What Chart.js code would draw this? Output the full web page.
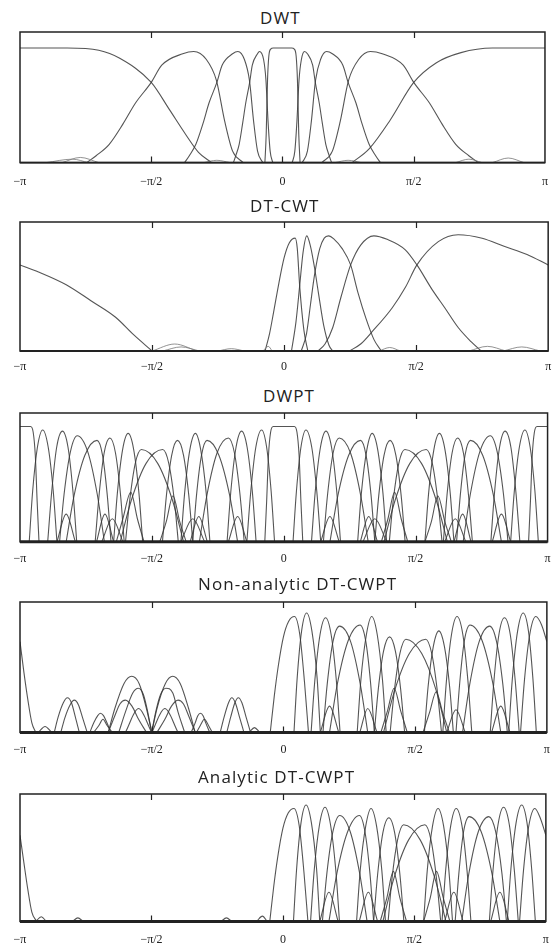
<!DOCTYPE html>
<html>
<head>
<meta charset="utf-8">
<script src="https://cdn.jsdelivr.net/npm/chart.js@4.4.1/dist/chart.umd.min.js"></script>
<style>
  body { margin: 0; background: #fff; width: 557px; height: 947px; overflow: hidden; position: relative; }
  .panel { position: absolute; left: 0; }
  .title { position: absolute; font-family: "Open Sans", sans-serif; font-size: 17px; line-height: 22px; color: #222; white-space: nowrap; letter-spacing: 1.1px; }
</style>
</head>
<body>
<script>
// x values are in units of pi, y is magnitude
const tickVals = [-1, -0.5, 0, 0.5, 1];
const tickLabels = ['\u2212\u03c0', '\u2212\u03c0/2', '0', '\u03c0/2', '\u03c0'];

// ---- DWT ----
const dwtHigh = [
  [[-1,1],[-0.82,1],[-0.7,0.98],[-0.62,0.91],[-0.5,0.70],[-0.43,0.46],[-0.37,0.25],[-0.32,0.09],[-0.27,0]],
  [[0.265,0],[0.33,0.12],[0.41,0.37],[0.5,0.70],[0.585,0.87],[0.68,0.96],[0.8,1],[1,1]]
];
const dwtLevel2 = [
  [[-0.746,0],[-0.71,0.06],[-0.66,0.16],[-0.607,0.34],[-0.56,0.52],[-0.5,0.70],[-0.46,0.85],[-0.38,0.95],[-0.338,0.97],[-0.29,0.9],[-0.252,0.72],[-0.22,0.36],[-0.19,0.1],[-0.15,0]],
  [[0.15,0],[0.19,0.1],[0.22,0.36],[0.252,0.72],[0.29,0.9],[0.335,0.97],[0.38,0.95],[0.46,0.85],[0.5,0.70],[0.56,0.52],[0.607,0.34],[0.66,0.16],[0.71,0.06],[0.746,0]]
];
const dwtLevel3 = [
  [[-0.373,0],[-0.355,0.06],[-0.33,0.16],[-0.303,0.34],[-0.28,0.52],[-0.25,0.70],[-0.23,0.85],[-0.19,0.95],[-0.17,0.97],[-0.145,0.9],[-0.126,0.72],[-0.11,0.36],[-0.095,0.1],[-0.075,0]],
  [[0.075,0],[0.095,0.1],[0.11,0.36],[0.126,0.72],[0.145,0.9],[0.168,0.97],[0.19,0.95],[0.23,0.85],[0.25,0.70],[0.28,0.52],[0.303,0.34],[0.33,0.16],[0.355,0.06],[0.373,0]]
];
const dwtLevel4 = [
  [[-0.187,0],[-0.178,0.06],[-0.165,0.16],[-0.152,0.34],[-0.14,0.52],[-0.125,0.70],[-0.115,0.85],[-0.095,0.95],[-0.088,0.97],[-0.072,0.9],[-0.063,0.72],[-0.055,0.36],[-0.047,0.1],[-0.037,0]],
  [[0.037,0],[0.047,0.1],[0.055,0.36],[0.063,0.72],[0.072,0.9],[0.084,0.97],[0.095,0.95],[0.115,0.85],[0.125,0.70],[0.14,0.52],[0.152,0.34],[0.165,0.16],[0.178,0.06],[0.187,0]]
];
const dwtLow = [
  [[-0.067,0],[-0.062,0.25],[-0.057,0.72],[-0.052,0.93],[-0.045,0.99],[-0.035,1],[0.035,1],[0.045,0.99],[0.052,0.93],[0.057,0.72],[0.062,0.25],[0.067,0]]
];
const dwtRipple = [
  [[-0.9,0],[-0.8,0.03],[-0.74,0]], [[-0.84,0],[-0.77,0.045],[-0.7,0]], [[-0.3,0],[-0.25,0.02],[-0.2,0]],
  [[0.2,0],[0.25,0.02],[0.3,0]], [[0.66,0],[0.71,0.03],[0.76,0]], [[0.8,0],[0.86,0.04],[0.92,0]]
];

// ---- DT-CWT ----
const cwtBands = [
  [[-0.072,0],[-0.055,0.15],[-0.04,0.33],[-0.02,0.58],[0,0.8],[0.02,0.93],[0.042,0.97],[0.05,0.88],[0.059,0.56],[0.075,0.18],[0.09,0]],
  [[0.028,0],[0.045,0.25],[0.059,0.56],[0.072,0.85],[0.086,0.99],[0.1,0.9],[0.115,0.72],[0.13,0.5],[0.15,0.22],[0.17,0.05],[0.184,0]],
  [[0.065,0],[0.085,0.15],[0.1,0.4],[0.115,0.65],[0.135,0.88],[0.152,0.97],[0.168,0.99],[0.19,0.96],[0.22,0.88],[0.252,0.74],[0.28,0.5],[0.31,0.28],[0.34,0.1],[0.368,0]],
  [[0.128,0],[0.155,0.06],[0.184,0.2],[0.215,0.46],[0.252,0.74],[0.29,0.91],[0.34,0.99],[0.39,0.96],[0.459,0.87],[0.503,0.74],[0.56,0.53],[0.609,0.37],[0.66,0.2],[0.708,0.08],[0.746,0]],
  [[0.247,0],[0.29,0.06],[0.335,0.17],[0.409,0.37],[0.46,0.55],[0.503,0.74],[0.584,0.94],[0.659,1.0],[0.75,0.97],[0.833,0.9],[0.92,0.83],[1,0.74]],
  [[-1,0.74],[-0.93,0.68],[-0.825,0.57],[-0.73,0.43],[-0.638,0.29],[-0.57,0.14],[-0.5,0]]
];
const cwtRipple = [
  [[-0.5,0],[-0.414,0.06],[-0.33,0]], [[-0.46,0],[-0.39,0.035],[-0.32,0]], [[-0.25,0],[-0.2,0.02],[-0.15,0]],
  [[-0.08,0],[-0.06,0.04],[-0.045,0]], [[0.36,0],[0.4,0.03],[0.44,0]], [[0.7,0],[0.77,0.04],[0.84,0]], [[0.83,0],[0.9,0.035],[0.97,0]]
];

// ---- DWPT ----
const dwptNeg = [
  [[-1,1],[-0.96,1],[-0.95,0.95],[-0.942,0.75],[-0.935,0.35],[-0.928,0]],
  [[-0.965,0],[-0.952,0.44],[-0.934,0.82],[-0.914,0.97],[-0.893,0.82],[-0.874,0.44],[-0.86,0]],
  [[-0.895,0],[-0.88,0.43],[-0.861,0.82],[-0.839,0.96],[-0.818,0.82],[-0.799,0.43],[-0.785,0]],
  [[-0.85,0],[-0.833,0.41],[-0.809,0.78],[-0.783,0.92],[-0.743,0.78],[-0.707,0.41],[-0.68,0]],
  [[-0.825,0],[-0.795,0.4],[-0.754,0.75],[-0.708,0.88],[-0.687,0.75],[-0.669,0.4],[-0.655,0]],
  [[-0.715,0],[-0.7,0.41],[-0.681,0.77],[-0.659,0.9],[-0.638,0.77],[-0.619,0.41],[-0.605,0]],
  [[-0.645,0],[-0.631,0.42],[-0.611,0.8],[-0.59,0.94],[-0.569,0.8],[-0.549,0.42],[-0.535,0]],
  [[-0.6,0],[-0.584,0.36],[-0.563,0.68],[-0.54,0.8],[-0.478,0.68],[-0.422,0.36],[-0.38,0]],
  [[-0.62,0],[-0.578,0.36],[-0.522,0.68],[-0.459,0.8],[-0.436,0.68],[-0.415,0.36],[-0.4,0]],
  [[-0.46,0],[-0.445,0.4],[-0.425,0.75],[-0.403,0.88],[-0.38,0.75],[-0.36,0.4],[-0.345,0]],
  [[-0.39,0],[-0.376,0.42],[-0.356,0.8],[-0.335,0.94],[-0.315,0.8],[-0.294,0.42],[-0.28,0]],
  [[-0.345,0],[-0.331,0.4],[-0.312,0.75],[-0.291,0.88],[-0.246,0.75],[-0.205,0.4],[-0.175,0]],
  [[-0.32,0],[-0.291,0.41],[-0.253,0.77],[-0.21,0.9],[-0.187,0.77],[-0.166,0.41],[-0.15,0]],
  [[-0.215,0],[-0.201,0.43],[-0.181,0.82],[-0.16,0.96],[-0.139,0.82],[-0.119,0.43],[-0.105,0]],
  [[-0.14,0],[-0.125,0.44],[-0.106,0.82],[-0.084,0.97],[-0.065,0.82],[-0.048,0.44],[-0.035,0]]
];
const dwptLow = [
  [[-0.072,0],[-0.065,0.35],[-0.058,0.75],[-0.05,0.95],[-0.04,1],[0.04,1],[0.05,0.95],[0.058,0.75],[0.065,0.35],[0.072,0]]
];
const dwptPos = [
  [[0.035,0],[0.048,0.44],[0.065,0.82],[0.084,0.97],[0.106,0.82],[0.125,0.44],[0.14,0]],
  [[0.105,0],[0.119,0.43],[0.139,0.82],[0.16,0.96],[0.181,0.82],[0.201,0.43],[0.215,0]],
  [[0.15,0],[0.166,0.41],[0.187,0.77],[0.21,0.9],[0.253,0.77],[0.291,0.41],[0.32,0]],
  [[0.175,0],[0.205,0.4],[0.246,0.75],[0.291,0.88],[0.312,0.75],[0.331,0.4],[0.345,0]],
  [[0.28,0],[0.294,0.42],[0.315,0.8],[0.335,0.94],[0.356,0.8],[0.376,0.42],[0.39,0]],
  [[0.345,0],[0.36,0.4],[0.38,0.75],[0.403,0.88],[0.425,0.75],[0.445,0.4],[0.46,0]],
  [[0.4,0],[0.415,0.36],[0.436,0.68],[0.459,0.8],[0.522,0.68],[0.578,0.36],[0.62,0]],
  [[0.38,0],[0.422,0.36],[0.478,0.68],[0.54,0.8],[0.563,0.68],[0.584,0.36],[0.6,0]],
  [[0.535,0],[0.549,0.42],[0.569,0.8],[0.59,0.94],[0.611,0.8],[0.631,0.42],[0.645,0]],
  [[0.605,0],[0.619,0.41],[0.638,0.77],[0.659,0.9],[0.681,0.77],[0.7,0.41],[0.715,0]],
  [[0.655,0],[0.669,0.4],[0.687,0.75],[0.708,0.88],[0.754,0.75],[0.795,0.4],[0.825,0]],
  [[0.68,0],[0.707,0.41],[0.743,0.78],[0.783,0.92],[0.809,0.78],[0.833,0.41],[0.85,0]],
  [[0.785,0],[0.799,0.43],[0.818,0.82],[0.839,0.96],[0.861,0.82],[0.88,0.43],[0.895,0]],
  [[0.86,0],[0.874,0.44],[0.893,0.82],[0.914,0.97],[0.934,0.82],[0.952,0.44],[0.965,0]],
  [[0.928,0],[0.935,0.35],[0.942,0.75],[0.95,0.95],[0.96,1],[1,1]]
];
const dwptLobes = [
  [[-0.47,0],[-0.445,0.18],[-0.42,0.4],[-0.395,0.18],[-0.37,0]],
  [[-0.635,0],[-0.61,0.2],[-0.58,0.43],[-0.555,0.2],[-0.53,0]],
  [[-0.21,0],[-0.175,0.22],[-0.14,0]], [[-0.355,0],[-0.322,0.22],[-0.29,0]], [[-0.39,0],[-0.345,0.2],[-0.3,0]],
  [[-0.69,0],[-0.65,0.2],[-0.61,0]], [[-0.71,0],[-0.678,0.24],[-0.645,0]], [[-0.86,0],[-0.825,0.24],[-0.79,0]],
  [[0.37,0],[0.395,0.2],[0.42,0.43],[0.445,0.2],[0.47,0]],
  [[0.535,0],[0.56,0.18],[0.584,0.4],[0.61,0.18],[0.635,0]],
  [[0.14,0],[0.175,0.22],[0.21,0]], [[0.29,0],[0.322,0.22],[0.355,0]], [[0.3,0],[0.345,0.2],[0.39,0]],
  [[0.61,0],[0.65,0.2],[0.69,0]], [[0.645,0],[0.678,0.24],[0.71,0]], [[0.79,0],[0.825,0.24],[0.86,0]]
];

// ---- Non-analytic DT-CWPT ----
const naPos = [
  [[-0.05,0],[-0.035,0.3],[-0.02,0.55],[0,0.8],[0.02,0.93],[0.042,0.97],[0.062,0.82],[0.08,0.42],[0.095,0]],
  [[0.04,0],[0.052,0.45],[0.069,0.85],[0.088,1.0],[0.108,0.85],[0.128,0.45],[0.14,0]],
  [[0.105,0],[0.119,0.43],[0.139,0.82],[0.16,0.96],[0.181,0.82],[0.201,0.43],[0.215,0]],
  [[0.15,0],[0.166,0.4],[0.188,0.76],[0.213,0.89],[0.255,0.76],[0.292,0.4],[0.32,0]],
  [[0.175,0],[0.205,0.41],[0.246,0.77],[0.291,0.9],[0.312,0.77],[0.331,0.41],[0.345,0]],
  [[0.28,0],[0.294,0.44],[0.315,0.82],[0.335,0.97],[0.356,0.82],[0.376,0.44],[0.39,0]],
  [[0.345,0],[0.36,0.36],[0.38,0.68],[0.403,0.8],[0.425,0.68],[0.445,0.36],[0.46,0]],
  [[0.405,0],[0.421,0.35],[0.442,0.66],[0.465,0.78],[0.525,0.66],[0.58,0.35],[0.62,0]],
  [[0.38,0],[0.422,0.35],[0.478,0.66],[0.54,0.78],[0.563,0.66],[0.584,0.35],[0.6,0]],
  [[0.535,0],[0.549,0.38],[0.569,0.72],[0.59,0.85],[0.611,0.72],[0.631,0.38],[0.645,0]],
  [[0.605,0],[0.619,0.44],[0.638,0.82],[0.659,0.97],[0.681,0.82],[0.7,0.44],[0.715,0]],
  [[0.655,0],[0.669,0.41],[0.687,0.77],[0.708,0.9],[0.754,0.77],[0.795,0.41],[0.825,0]],
  [[0.68,0],[0.707,0.4],[0.743,0.76],[0.783,0.89],[0.809,0.76],[0.833,0.4],[0.85,0]],
  [[0.785,0],[0.799,0.43],[0.818,0.82],[0.839,0.96],[0.861,0.82],[0.88,0.43],[0.895,0]],
  [[0.855,0],[0.869,0.45],[0.889,0.85],[0.91,1.0],[0.93,0.85],[0.947,0.45],[0.96,0]],
  [[0.9,0],[0.915,0.44],[0.935,0.82],[0.958,0.97],[0.98,0.9],[1,0.76]],
  [[-1,0.76],[-0.985,0.5],[-0.97,0.27],[-0.955,0.08],[-0.94,0]]
];
const naLobes = [
  [[0.37,0],[0.395,0.18],[0.42,0.37],[0.445,0.18],[0.47,0]],
  [[0.53,0],[0.555,0.17],[0.58,0.34],[0.605,0.16],[0.63,0]],
  [[0.14,0],[0.175,0.22],[0.21,0]], [[0.29,0],[0.32,0.2],[0.355,0]],
  [[0.62,0],[0.655,0.19],[0.69,0]], [[0.79,0],[0.825,0.22],[0.86,0]]
];
const naNeg = [
  [[-0.93,0],[-0.905,0.05],[-0.88,0]],
  [[-0.87,0],[-0.855,0.13],[-0.835,0.25],[-0.82,0.29],[-0.805,0.25],[-0.79,0.13],[-0.775,0]],
  [[-0.845,0],[-0.83,0.12],[-0.81,0.23],[-0.794,0.27],[-0.778,0.23],[-0.762,0.12],[-0.745,0]],
  [[-0.735,0],[-0.72,0.08],[-0.705,0.14],[-0.695,0.16],[-0.683,0.14],[-0.67,0.08],[-0.655,0]],
  [[-0.72,0],[-0.7,0.06],[-0.685,0.11],[-0.67,0.06],[-0.65,0]],
  [[-0.665,0],[-0.64,0.2],[-0.605,0.41],[-0.576,0.47],[-0.548,0.41],[-0.52,0.2],[-0.5,0]],
  [[-0.625,0],[-0.6,0.17],[-0.572,0.33],[-0.551,0.37],[-0.532,0.32],[-0.515,0.17],[-0.5,0]],
  [[-0.665,0],[-0.64,0.14],[-0.62,0.24],[-0.6,0.27],[-0.575,0.22],[-0.55,0.11],[-0.52,0]],
  [[-0.6,0],[-0.55,0.2],[-0.5,0]],
  [[-0.5,0],[-0.48,0.2],[-0.448,0.41],[-0.42,0.47],[-0.392,0.41],[-0.36,0.2],[-0.335,0]],
  [[-0.5,0],[-0.485,0.17],[-0.466,0.32],[-0.446,0.37],[-0.42,0.33],[-0.4,0.17],[-0.375,0]],
  [[-0.48,0],[-0.45,0.11],[-0.425,0.22],[-0.4,0.27],[-0.38,0.24],[-0.36,0.14],[-0.335,0]],
  [[-0.5,0],[-0.45,0.2],[-0.4,0]],
  [[-0.35,0],[-0.335,0.08],[-0.325,0.14],[-0.315,0.16],[-0.305,0.14],[-0.295,0.08],[-0.28,0]],
  [[-0.33,0],[-0.315,0.06],[-0.3,0.11],[-0.285,0.06],[-0.27,0]],
  [[-0.24,0],[-0.225,0.13],[-0.208,0.25],[-0.196,0.29],[-0.183,0.25],[-0.167,0.13],[-0.15,0]],
  [[-0.215,0],[-0.2,0.13],[-0.184,0.25],[-0.171,0.29],[-0.158,0.25],[-0.142,0.13],[-0.125,0]],
  [[-0.13,0],[-0.11,0.04],[-0.09,0]]
];

// ---- Analytic DT-CWPT ----
const anPos = [
  [[-0.05,0],[-0.035,0.3],[-0.02,0.55],[0,0.8],[0.02,0.93],[0.042,0.97],[0.062,0.82],[0.08,0.42],[0.095,0]],
  [[0.04,0],[0.052,0.45],[0.069,0.85],[0.088,1.0],[0.108,0.85],[0.128,0.45],[0.14,0]],
  [[0.105,0],[0.119,0.44],[0.139,0.83],[0.16,0.98],[0.181,0.83],[0.201,0.44],[0.215,0]],
  [[0.15,0],[0.167,0.41],[0.19,0.77],[0.216,0.91],[0.256,0.77],[0.292,0.41],[0.32,0]],
  [[0.175,0],[0.205,0.41],[0.246,0.77],[0.291,0.91],[0.312,0.77],[0.331,0.41],[0.345,0]],
  [[0.28,0],[0.294,0.44],[0.315,0.82],[0.335,0.97],[0.356,0.82],[0.376,0.44],[0.39,0]],
  [[0.345,0],[0.36,0.4],[0.38,0.76],[0.403,0.89],[0.425,0.76],[0.445,0.4],[0.46,0]],
  [[0.4,0],[0.415,0.37],[0.436,0.7],[0.459,0.83],[0.522,0.7],[0.578,0.37],[0.62,0]],
  [[0.38,0],[0.422,0.37],[0.478,0.7],[0.54,0.83],[0.563,0.7],[0.584,0.37],[0.6,0]],
  [[0.535,0],[0.549,0.44],[0.569,0.82],[0.59,0.97],[0.611,0.82],[0.631,0.44],[0.645,0]],
  [[0.605,0],[0.619,0.44],[0.638,0.82],[0.659,0.97],[0.681,0.82],[0.7,0.44],[0.715,0]],
  [[0.655,0],[0.669,0.41],[0.687,0.77],[0.708,0.9],[0.754,0.77],[0.795,0.41],[0.825,0]],
  [[0.68,0],[0.707,0.41],[0.743,0.77],[0.783,0.9],[0.809,0.77],[0.833,0.41],[0.85,0]],
  [[0.785,0],[0.799,0.44],[0.818,0.83],[0.839,0.98],[0.861,0.83],[0.88,0.44],[0.895,0]],
  [[0.853,0],[0.867,0.45],[0.887,0.85],[0.908,1.0],[0.928,0.85],[0.946,0.45],[0.96,0]],
  [[0.9,0],[0.915,0.44],[0.935,0.82],[0.958,0.97],[0.98,0.88],[1,0.74]],
  [[-1,0.74],[-0.985,0.5],[-0.97,0.27],[-0.955,0.08],[-0.937,0]]
];
const anLobes = [
  [[0.37,0],[0.395,0.2],[0.42,0.43],[0.445,0.2],[0.47,0]],
  [[0.535,0],[0.56,0.2],[0.584,0.43],[0.61,0.2],[0.635,0]],
  [[0.14,0],[0.175,0.25],[0.21,0]], [[0.29,0],[0.325,0.25],[0.36,0]],
  [[0.615,0],[0.65,0.25],[0.685,0]], [[0.79,0],[0.825,0.25],[0.86,0]],
  [[-0.94,0],[-0.919,0.04],[-0.9,0]], [[-0.8,0],[-0.78,0.03],[-0.76,0]],
  [[-0.235,0],[-0.215,0.03],[-0.195,0]], [[-0.1,0],[-0.078,0.045],[-0.06,0]]
];

const lineColor = 'rgba(55,55,55,0.85)';
const rippleColor = 'rgba(120,120,120,0.8)';

function toDatasets(curves, color, width) {
  return curves.map(c => ({
    data: c.map(p => ({ x: p[0], y: p[1] })),
    borderColor: color,
    borderWidth: width,
    pointRadius: 0,
    fill: false,
    cubicInterpolationMode: 'monotone'
  }));
}

const boxPlugin = {
  id: 'box',
  afterDraw(chart, args, opts) {
    const { ctx, chartArea: a, scales: { x } } = chart;
    ctx.save();
    ctx.strokeStyle = '#222';
    ctx.lineWidth = 1.5;
    ctx.strokeRect(a.left, a.top, a.right - a.left, a.bottom - a.top);
    ctx.lineWidth = opts.floor || 1.5;
    ctx.beginPath();
    ctx.moveTo(a.left, a.bottom);
    ctx.lineTo(a.right, a.bottom);
    ctx.stroke();
    ctx.lineWidth = 1.2;
    ctx.beginPath();
    [-0.5, 0, 0.5].forEach(v => {
      const px = Math.round(x.getPixelForValue(v)) + 0.5;
      ctx.moveTo(px, a.top); ctx.lineTo(px, a.top + 6);
      ctx.moveTo(px, a.bottom); ctx.lineTo(px, a.bottom - 6);
    });
    ctx.stroke();
    ctx.restore();
  }
};

const panels = [
  { title: 'DWT', titleLeft: 260, titleTop: 7, boxTop: 32, boxH: 130.5, pad: 12, yMax: 1.14, floor: 1.8,
    sets: [[dwtRipple, rippleColor, 1], [dwtHigh, lineColor, 1.1], [dwtLevel2, lineColor, 1.1], [dwtLevel3, lineColor, 1.1], [dwtLevel4, lineColor, 1.1], [dwtLow, lineColor, 1.1]] },
  { title: 'DT-CWT', titleLeft: 250, titleTop: 194.5, boxTop: 222.3, boxH: 129.4, pad: 8.8, yMax: 1.109, floor: 1.8,
    sets: [[cwtRipple, rippleColor, 1], [cwtBands, lineColor, 1.1]] },
  { title: 'DWPT', titleLeft: 263, titleTop: 385, boxTop: 413.3, boxH: 128.4, pad: 9.4, yMax: 1.117, floor: 3,
    sets: [[dwptLobes, lineColor, 1.1], [dwptNeg, lineColor, 1.1], [dwptLow, lineColor, 1.1], [dwptPos, lineColor, 1.1]] },
  { title: 'Non-analytic DT-CWPT', titleLeft: 198, titleTop: 572.5, boxTop: 602.3, boxH: 130.4, pad: 10.1, yMax: 1.092, floor: 3,
    sets: [[naNeg, lineColor, 1.1], [naLobes, lineColor, 1.1], [naPos, lineColor, 1.1]] },
  { title: 'Analytic DT-CWPT', titleLeft: 198, titleTop: 766, boxTop: 794, boxH: 127.7, pad: 11.1, yMax: 1.094, floor: 3,
    sets: [[anLobes, lineColor, 1.1], [anPos, lineColor, 1.1]] }
];

panels.forEach(p => {
  const t = document.createElement('div');
  t.className = 'title';
  t.style.left = p.titleLeft + 'px';
  t.style.top = p.titleTop + 'px';
  t.textContent = p.title;
  document.body.appendChild(t);

  const h = Math.round(2 + p.boxH + 14.4 + 2 * p.pad);
  const wrap = document.createElement('div');
  wrap.className = 'panel';
  wrap.style.top = (p.boxTop - 2) + 'px';
  const cv = document.createElement('canvas');
  cv.width = 560; cv.height = h;
  cv.style.width = '560px'; cv.style.height = h + 'px';
  wrap.appendChild(cv);
  document.body.appendChild(wrap);

  let datasets = [];
  p.sets.forEach(s => { datasets = datasets.concat(toDatasets(s[0], s[1], s[2])); });

  new Chart(cv.getContext('2d'), {
    type: 'line',
    data: { datasets },
    options: {
      responsive: false,
      animation: false,
      events: [],
      layout: { padding: { top: 2, left: 20, right: 5, bottom: 0 } },
      plugins: { legend: { display: false }, tooltip: { enabled: false }, box: { floor: p.floor } },
      scales: {
        x: {
          type: 'linear', min: -1, max: 1,
          afterBuildTicks: scale => { scale.ticks = tickVals.map(v => ({ value: v })); },
          grid: { display: false, drawTicks: false },
          border: { display: false },
          ticks: {
            autoSkip: false, maxRotation: 0, padding: p.pad,
            font: { family: 'Liberation Serif', size: 12 }, color: '#222',
            callback: (v, i) => tickLabels[i]
          }
        },
        y: { display: false, min: 0, max: p.yMax }
      }
    },
    plugins: [boxPlugin]
  });
});
</script>
</body>
</html>
